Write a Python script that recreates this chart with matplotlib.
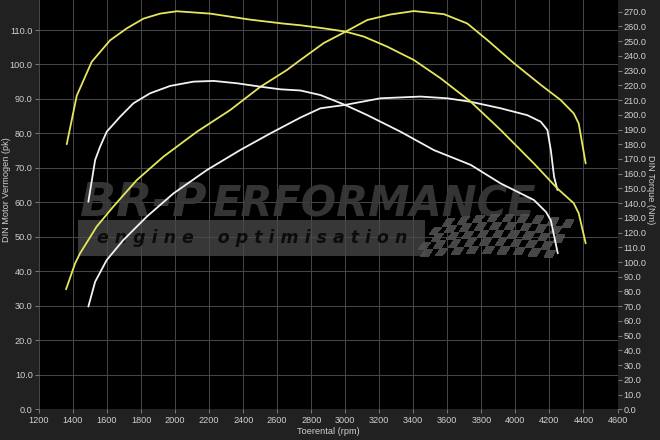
import matplotlib
matplotlib.use('Agg')
import matplotlib.pyplot as plt
import numpy as np
from matplotlib.patches import Rectangle

plt.rcParams['font.family'] = ['Liberation Sans', 'DejaVu Sans']

# ---------------- data ----------------
rpm_ticks = list(range(1200, 4601, 200))
pk_ticks = list(range(0, 111, 10))
nm_ticks = list(range(0, 271, 10))

# tuned power (pk) - yellow
rpm_tuned_pk = [1359, 1412, 1441, 1539, 1637, 1775, 1932, 2128, 2324, 2500, 2657, 2736,
                2873, 3001, 3129, 3265, 3403, 3580, 3717, 3835, 3991, 4149, 4266,
                4343, 4372, 4413]
tuned_pk = [34.8, 42.3, 45.2, 53.0, 58.8, 66.5, 73.3, 80.5, 86.8, 93.5, 98.4, 101.3,
            106.2, 109.5, 112.9, 114.5, 115.5, 114.6, 111.9, 107.1, 100.4, 94.1, 89.7,
            85.8, 82.9, 71.3]

# tuned torque (Nm) - yellow
rpm_tuned_nm = [1363, 1422, 1510, 1618, 1716, 1814, 1912, 2010, 2206, 2442, 2638, 2736,
                2873, 3001, 3109, 3246, 3403, 3560, 3736, 3913, 4109, 4247, 4343,
                4372, 4413]
tuned_nm = [180.0, 213.0, 236.0, 250.6, 258.7, 265.3, 268.7, 270.3, 268.7, 264.6, 261.9, 260.8,
            258.7, 256.5, 253.1, 246.3, 237.2, 224.8, 209.0, 189.7, 166.9, 149.9, 139.9,
            133.1, 112.7]

# stock power (pk) - white
rpm_stock_pk = [1490, 1530, 1598, 1696, 1834, 1990, 2187, 2383, 2559, 2736, 2854, 3001,
                3207, 3442, 3599, 3736, 3913, 4070, 4149, 4188, 4208, 4227, 4247]
stock_pk = [29.8, 37.0, 43.3, 49.1, 55.9, 62.6, 69.4, 75.2, 80.0, 84.6, 87.3, 88.3,
            90.2, 90.7, 90.2, 89.2, 87.3, 85.3, 83.4, 81.0, 75.2, 67.5, 63.6]

# stock torque (Nm) - white
rpm_stock_nm = [1490, 1530, 1559, 1598, 1677, 1755, 1853, 1971, 2108, 2226, 2363, 2500,
                2618, 2736, 2854, 3001, 3129, 3325, 3521, 3737, 3913, 4109, 4180,
                4208, 4249]
stock_nm = [140.9, 169.3, 178.3, 188.5, 198.7, 207.8, 214.6, 219.6, 222.5, 223.0, 221.4, 219.1,
            217.3, 216.5, 213.4, 206.6, 199.8, 188.5, 176.0, 166.0, 153.4, 142.1, 134.0,
            128.3, 105.9]

# ---------------- style ----------------
FIG_BG = '#212121'
TXT = '#d0d0d0'
GRID = '#454545'
YELLOW = '#e6e65c'
WHITE = '#f2f2f2'

W, H = 660, 440
fig = plt.figure(figsize=(W / 100, H / 100), dpi=100, facecolor=FIG_BG)
ax_l, ax_r, ax_b, ax_t = 39, 617.5, 409.3, 0
ax = fig.add_axes([ax_l / W, 1 - ax_b / H, (ax_r - ax_l) / W, (ax_b - ax_t) / H])
ax.set_facecolor('black')
ax.set_xlim(1200, 4600)
ax.set_ylim(0, 409.3 / 3.448)
ax2 = ax.twinx()
ax2.set_ylim(0, 409.3 / 1.4726)

for a in (ax, ax2):
    for s in a.spines.values():
        s.set_visible(False)

ax.set_xticks(rpm_ticks)
ax.set_xticklabels([str(v) for v in rpm_ticks])
ax.set_yticks(pk_ticks)
ax.set_yticklabels([f'{v:.1f}' for v in pk_ticks])
ax2.set_yticks(nm_ticks)
ax2.set_yticklabels([f'{v:.1f}' for v in nm_ticks])
for a in (ax, ax2):
    a.tick_params(colors='#8a8a8a', labelcolor=TXT, labelsize=6.6, length=3, width=0.6, pad=1.5)

ax.set_axisbelow(True)
ax.grid(True, color=GRID, lw=0.75)

# ---------------- watermark ----------------
def fx(px):
    return (px - ax_l) / (ax_r - ax_l)

def fy(py):
    return (ax_b - py) / (ax_b - ax_t)

ax.add_patch(Rectangle((fx(78), fy(256)), fx(425) - fx(78), fy(220) - fy(256),
                       transform=ax.transAxes, facecolor='#4a4a4a', alpha=0.75,
                       edgecolor='none', zorder=1))
ax.text(fx(97), fy(238), 'e n g i n e    o p t i m i s a t i o n', transform=ax.transAxes,
        fontsize=12.5, fontweight='bold', fontstyle='italic', color='#0c0c0c',
        va='center', ha='left', zorder=1.2, family=['DejaVu Sans'])

ax.text(fx(80), fy(216), 'BR-P', transform=ax.transAxes, fontsize=34,
        fontweight='bold', fontstyle='italic', color='#3a3a3a', alpha=0.9,
        va='baseline', ha='left', zorder=1.1, family=['DejaVu Sans'])
ax.text(fx(212), fy(216), 'ERFORMANCE', transform=ax.transAxes, fontsize=30,
        fontweight='bold', fontstyle='italic', color='#3a3a3a', alpha=0.9,
        va='baseline', ha='left', zorder=1.1, family=['DejaVu Sans'])

# checkered flag
ncol, nrow = 18, 5
u = np.linspace(0, 1, ncol + 1)
v = np.linspace(0, 1, nrow + 1)
U, V = np.meshgrid(u, v)
x_left_top, x_left_bot, x_right = 440, 412, 574
y_top = 220 - 6 * np.sin(U * np.pi)
y_bot = 258 - 4 * np.sin(U * np.pi)
PX = (x_left_top + (x_left_bot - x_left_top) * V) + (x_right - x_left_top - (x_left_bot - x_left_top) * V * 0.2) * U
PY = y_top + (y_bot - y_top) * V
C = (np.add.outer(np.arange(nrow), np.arange(ncol)) % 2).astype(float)
C = np.ma.masked_where(C == 0, C)
ax.pcolormesh(fx(PX), fy(PY), C, transform=ax.transAxes,
              cmap=matplotlib.colors.ListedColormap(['#505050']),
              shading='flat', zorder=1.1, alpha=0.9)

# ---------------- curves ----------------
kw = dict(lw=1.3, zorder=3, solid_joinstyle='round', solid_capstyle='round')
ax.plot(rpm_tuned_pk, tuned_pk, color=YELLOW, **kw)
ax.plot(rpm_stock_pk, stock_pk, color=WHITE, **kw)
ax2.plot(rpm_tuned_nm, tuned_nm, color=YELLOW, **kw)
ax2.plot(rpm_stock_nm, stock_nm, color=WHITE, **kw)

# ---------------- axis titles ----------------
fig.text(7 / W, 1 - 190 / H, 'DIN Motor Vermogen (pk)', rotation=90, color=TXT,
         fontsize=6.6, ha='center', va='center')
fig.text(651 / W, 1 - 190 / H, 'DIN Torque (Nm)', rotation=270, color=TXT,
         fontsize=6.6, ha='center', va='center')
fig.text(328 / W, 1 - 431 / H, 'Toerental (rpm)', color=TXT, fontsize=6.6,
         ha='center', va='center')

fig.savefig('out.png', dpi=100, facecolor=FIG_BG)
